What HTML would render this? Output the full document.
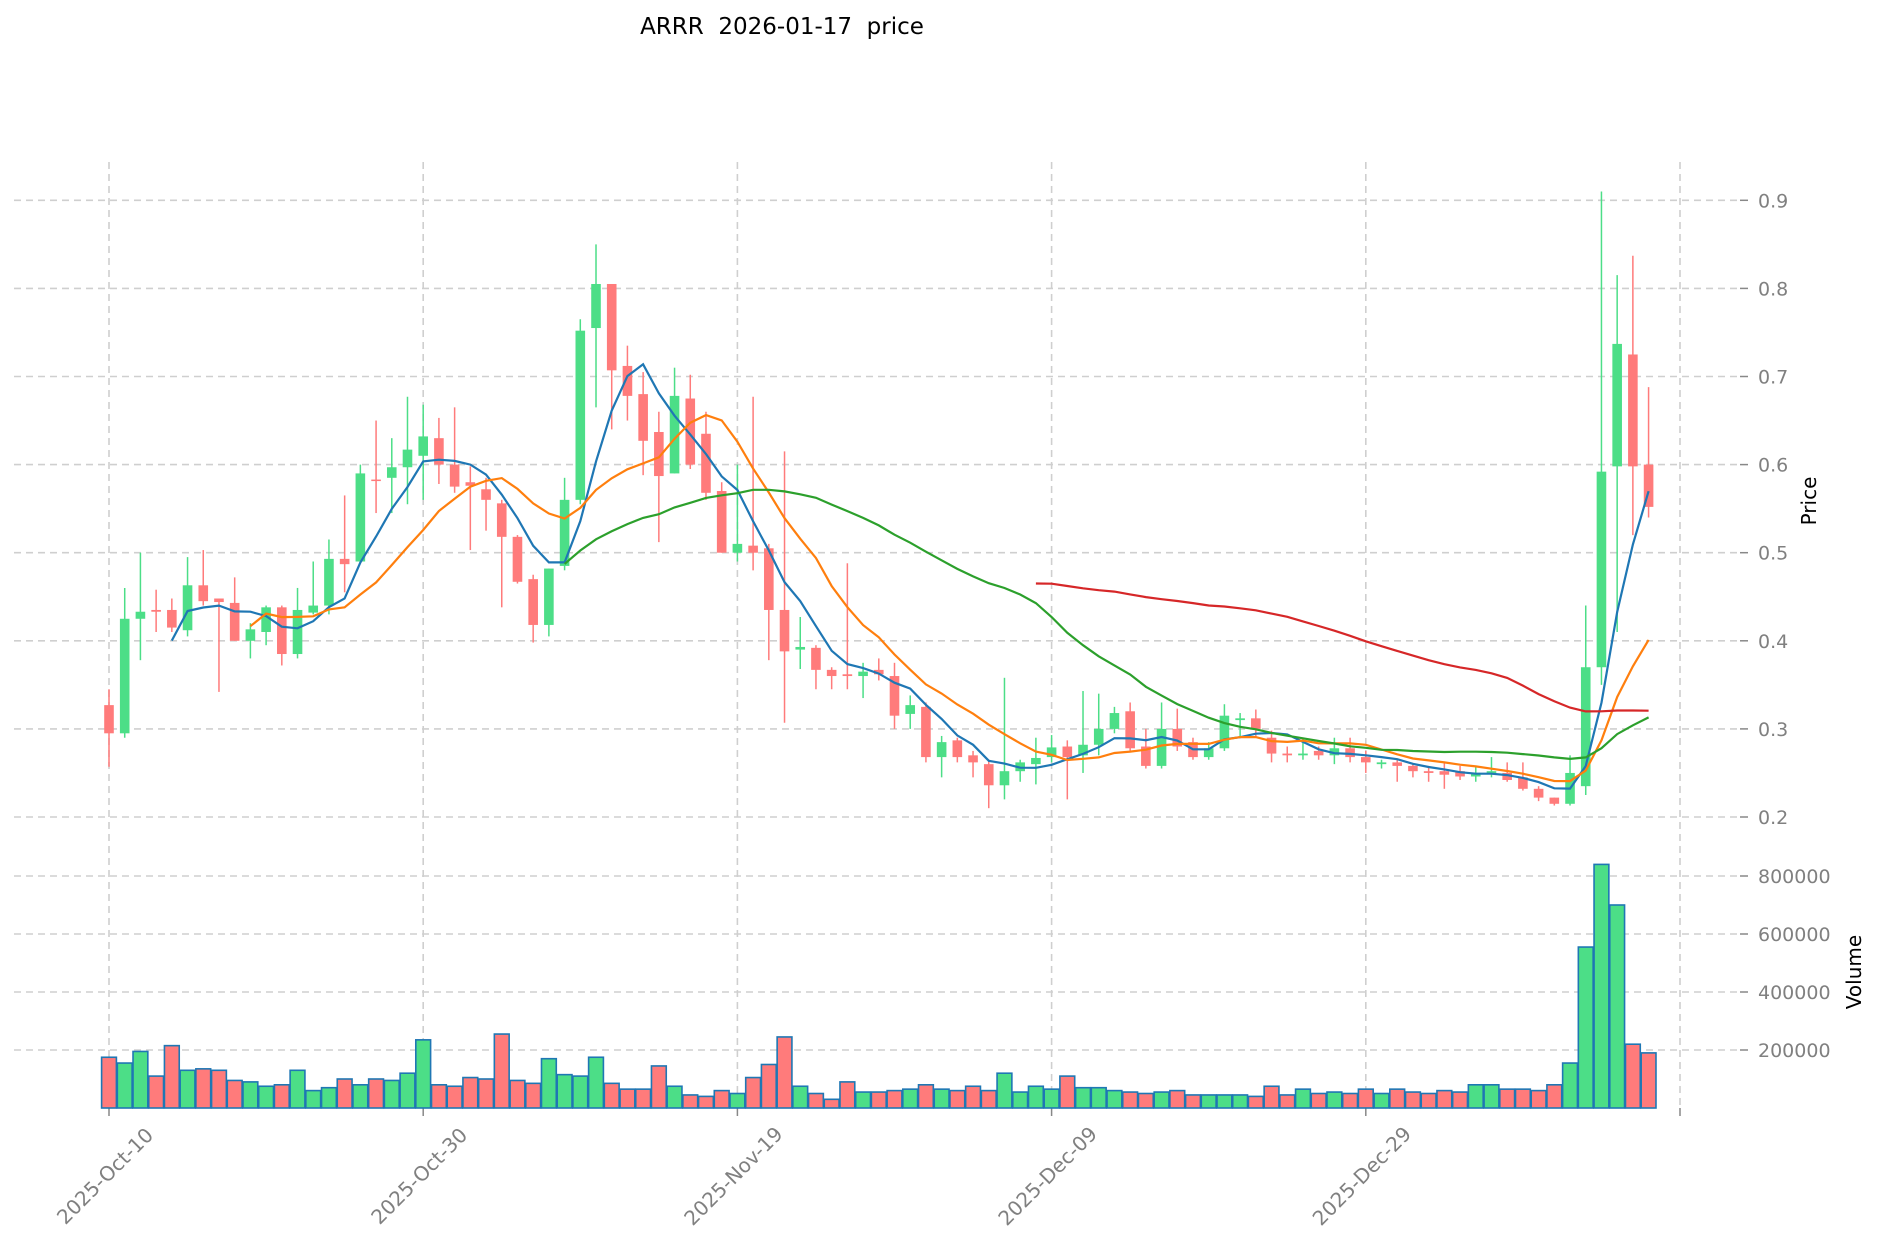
<!DOCTYPE html>
<html><head><meta charset="utf-8"><style>
html,body{margin:0;padding:0;background:#fff;}
svg{display:block;font-family:"DejaVu Sans","Liberation Sans",sans-serif;}
</style></head><body>
<svg id="c" width="1880" height="1246" xmlns="http://www.w3.org/2000/svg">
<text x="782" y="34" font-size="23" text-anchor="middle" fill="#000" style="white-space:pre">ARRR  2026-01-17  price</text>
</svg>
<script>
var D=[
[0.327,0.345,0.257,0.295,175],[0.295,0.46,0.29,0.425,155],[0.425,0.5,0.378,0.433,195],[0.435,0.458,0.41,0.433,110],[0.435,0.448,0.41,0.415,215],
[0.412,0.495,0.405,0.463,130],[0.463,0.503,0.44,0.445,135],[0.448,0.448,0.342,0.444,130],[0.443,0.472,0.4,0.4,95],[0.4,0.42,0.38,0.413,90],
[0.41,0.44,0.395,0.438,75],[0.438,0.44,0.372,0.385,80],[0.385,0.46,0.38,0.435,130],[0.432,0.49,0.43,0.44,60],[0.44,0.515,0.43,0.493,70],
[0.493,0.565,0.455,0.487,100],[0.49,0.6,0.49,0.59,80],[0.583,0.65,0.545,0.582,100],[0.585,0.63,0.545,0.597,95],[0.597,0.677,0.555,0.617,120],
[0.61,0.668,0.56,0.632,235],[0.63,0.653,0.578,0.6,80],[0.6,0.665,0.568,0.575,75],[0.58,0.598,0.503,0.576,105],[0.572,0.585,0.525,0.56,100],
[0.556,0.56,0.438,0.518,255],[0.518,0.52,0.465,0.467,95],[0.47,0.475,0.398,0.418,85],[0.418,0.482,0.405,0.482,170],[0.485,0.585,0.48,0.56,115],
[0.56,0.765,0.555,0.752,110],[0.755,0.85,0.665,0.805,175],[0.805,0.805,0.64,0.707,85],[0.712,0.735,0.65,0.678,65],[0.68,0.705,0.588,0.627,65],
[0.637,0.66,0.512,0.587,145],[0.59,0.71,0.59,0.678,75],[0.675,0.702,0.595,0.6,45],[0.635,0.66,0.56,0.568,40],[0.57,0.58,0.5,0.5,60],
[0.5,0.6,0.49,0.51,50],[0.508,0.677,0.48,0.5,105],[0.505,0.51,0.378,0.435,150],[0.435,0.615,0.307,0.388,245],[0.39,0.427,0.368,0.393,75],
[0.392,0.395,0.345,0.367,50],[0.367,0.37,0.345,0.36,30],[0.362,0.488,0.345,0.36,90],[0.36,0.375,0.335,0.365,55],[0.367,0.38,0.355,0.362,55],
[0.36,0.375,0.3,0.315,60],[0.317,0.338,0.3,0.327,65],[0.325,0.33,0.262,0.268,80],[0.268,0.292,0.245,0.285,65],[0.287,0.29,0.262,0.268,60],
[0.27,0.275,0.245,0.262,75],[0.26,0.265,0.21,0.236,60],[0.236,0.358,0.22,0.252,120],[0.252,0.265,0.24,0.262,55],[0.26,0.29,0.237,0.267,75],
[0.268,0.293,0.262,0.279,65],[0.28,0.287,0.22,0.268,110],[0.27,0.343,0.25,0.282,70],[0.282,0.34,0.27,0.3,70],[0.3,0.325,0.295,0.318,60],
[0.32,0.33,0.275,0.278,55],[0.28,0.3,0.255,0.258,50],[0.258,0.33,0.255,0.3,55],[0.3,0.323,0.275,0.28,60],[0.285,0.29,0.265,0.268,45],
[0.268,0.285,0.265,0.278,45],[0.278,0.328,0.275,0.315,45],[0.31,0.318,0.29,0.312,45],[0.312,0.322,0.29,0.3,40],[0.29,0.298,0.262,0.272,75],
[0.272,0.28,0.262,0.27,45],[0.27,0.29,0.265,0.272,65],[0.275,0.28,0.265,0.27,50],[0.27,0.29,0.26,0.278,55],[0.278,0.29,0.262,0.268,50],
[0.268,0.275,0.25,0.262,65],[0.26,0.265,0.255,0.262,50],[0.262,0.265,0.24,0.258,65],[0.258,0.26,0.245,0.252,55],[0.252,0.258,0.24,0.25,50],
[0.252,0.262,0.232,0.248,60],[0.252,0.258,0.242,0.246,55],[0.246,0.258,0.24,0.25,80],[0.25,0.268,0.245,0.252,80],[0.25,0.262,0.24,0.242,65],
[0.245,0.262,0.23,0.232,65],[0.232,0.235,0.218,0.222,60],[0.222,0.222,0.213,0.215,80],[0.215,0.27,0.213,0.25,155],[0.235,0.44,0.225,0.37,555],
[0.37,0.91,0.35,0.592,840],[0.598,0.815,0.41,0.737,700],[0.725,0.837,0.52,0.598,220],[0.6,0.688,0.54,0.552,190]];
var NS="http://www.w3.org/2000/svg",S=document.getElementById('c');
function el(t,a,txt){var e=document.createElementNS(NS,t);for(var k in a)e.setAttribute(k,a[k]);if(txt!=null)e.textContent=txt;S.appendChild(e);return e;}
function X(i){return 109+i*15.71;}
function Y(p){return 817-(p-0.2)*881;}
function V(v){return 1108-v*1000*(58/200000);}
var G="#4cde87",R="#ff7b7b",grid={stroke:"#cfcfcf","stroke-width":1.6,"stroke-dasharray":"7,5"};
for(var p=2;p<=9;p++){var y=Y(p/10);el('line',Object.assign({x1:14,x2:1740,y1:y,y2:y},grid));el('line',{x1:1740,x2:1748,y1:y,y2:y,stroke:"#888","stroke-width":1.5});el('text',{x:1758,y:y+7,"font-size":19,fill:"#808080"},"0."+p);}
for(var v=2;v<=8;v+=2){var y=V(v*100);el('line',Object.assign({x1:14,x2:1740,y1:y,y2:y},grid));el('line',{x1:1740,x2:1748,y1:y,y2:y,stroke:"#888","stroke-width":1.5});el('text',{x:1758,y:y+7,"font-size":19,fill:"#808080"},v*100000+"");}
var labs=["2025-Oct-10","2025-Oct-30","2025-Nov-19","2025-Dec-09","2025-Dec-29"];
for(var j=0;j<6;j++){var x=j<5?X(j*20):1680;el('line',Object.assign({x1:x,x2:x,y1:162,y2:1108},grid));el('line',{x1:x,x2:x,y1:1108,y2:1116,stroke:"#888","stroke-width":1.5});
if(j<5){var cx=x-4,cy=1176;el('text',{x:cx,y:cy+7,"font-size":20,fill:"#808080","text-anchor":"middle",transform:"rotate(-45 "+cx+" "+cy+")"},labs[j]);}}
el('text',{x:1816,y:501,"font-size":20,fill:"#000","text-anchor":"middle",transform:"rotate(-90 1816 501)"},"Price");
el('text',{x:1861,y:972,"font-size":20,fill:"#000","text-anchor":"middle",transform:"rotate(-90 1861 972)"},"Volume");
D.forEach(function(d,i){var up=d[3]>=d[0];var y=V(d[4]);el('rect',{x:X(i)-7.4,y:y,width:14.8,height:1108-y,fill:up?G:R,stroke:"#1f77b4","stroke-width":1.6});});
D.forEach(function(d,i){var up=d[3]>=d[0],c=up?G:R,x=X(i);el('line',{x1:x,x2:x,y1:Y(d[1]),y2:Y(d[2]),stroke:c,"stroke-width":1.5});
var t=Y(Math.max(d[0],d[3])),b=Y(Math.min(d[0],d[3]));el('rect',{x:x-4.8,y:t,width:9.6,height:Math.max(b-t,1.5),fill:c});});
[[5,"#1f77b4"],[10,"#ff7f0e"],[30,"#2ca02c"],[60,"#d62728"]].forEach(function(m){var n=m[0],pts=[];for(var i=n-1;i<D.length;i++){var s=0;for(var k=i-n+1;k<=i;k++)s+=D[k][3];pts.push(X(i).toFixed(1)+","+Y(s/n).toFixed(1));}
el('polyline',{points:pts.join(" "),fill:"none",stroke:m[1],"stroke-width":2.2});});
</script>
</body></html>
